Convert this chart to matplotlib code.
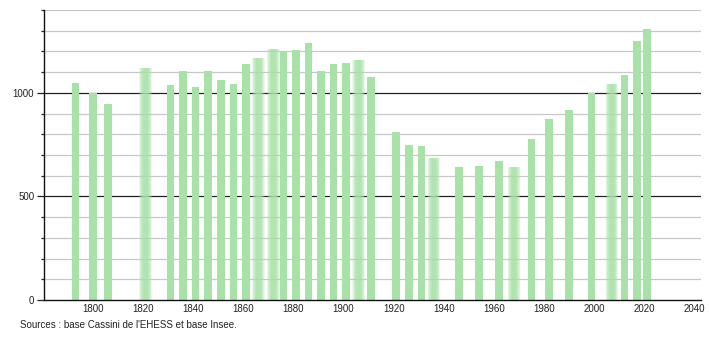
import numpy as np
import matplotlib.pyplot as plt
from matplotlib.ticker import MultipleLocator

plt.rcParams['font.family'] = ['Liberation Sans', 'DejaVu Sans']

# census years and population
years = [1793, 1800, 1806, 1821, 1831, 1836, 1841, 1846, 1851, 1856,
         1861, 1866, 1872, 1876, 1881, 1886, 1891, 1896, 1901, 1906,
         1911, 1921, 1926, 1931, 1936, 1946, 1954, 1962, 1968, 1975,
         1982, 1990, 1999, 2007, 2012, 2017, 2021]
pop = [1048, 1000, 948, 1118, 1040, 1105, 1029, 1105, 1060, 1045,
       1137, 1169, 1213, 1198, 1205, 1242, 1105, 1137, 1145, 1161,
       1077, 811, 748, 745, 687, 644, 648, 673, 644, 779,
       876, 915, 998, 1044, 1087, 1248, 1310]
# bars that look soft-edged in the original
blurred = [1821, 1866, 1872, 1906, 1936, 1968, 2007]

green = '#a8e2a8'

fig = plt.figure(figsize=(7.1, 3.4), dpi=100)
ax = fig.add_axes([0.062, 0.1176, 0.925, 0.853])

for y in range(100, 1500, 100):
    if y % 500 == 0:
        ax.axhline(y, color='#222222', lw=0.9, zorder=1)
    else:
        ax.axhline(y, color='#c8c8c8', lw=0.9, zorder=1)

sharp = [(x, p) for x, p in zip(years, pop) if x not in blurred]
soft = [(x, p) for x, p in zip(years, pop) if x in blurred]
ax.bar([s[0] for s in sharp], [s[1] for s in sharp], width=3.0,
       color=green, lw=0, zorder=2)
for w in np.linspace(5.0, 1.6, 8):
    ax.bar([s[0] for s in soft], [s[1] for s in soft], width=w,
           color=green, alpha=0.22, lw=0, zorder=2)

ax.set_xlim(1780.5, 2042.5)
ax.set_ylim(0, 1400)
ax.set_xticks(range(1800, 2041, 20))
ax.set_yticks([0, 500, 1000])
ax.yaxis.set_minor_locator(MultipleLocator(100))
ax.tick_params(axis='x', length=0, pad=3, labelsize=7, colors='#222222')
ax.tick_params(axis='y', which='major', length=5, width=0.9, pad=2,
               labelsize=7, colors='#222222')
ax.tick_params(axis='y', which='minor', length=2, width=0.9, color='#222222')

for side in ['top', 'right']:
    ax.spines[side].set_visible(False)
for side in ['left', 'bottom']:
    ax.spines[side].set_color('#111111')
    ax.spines[side].set_linewidth(1.0)

fig.text(0.028, 0.035, "Sources : base Cassini de l'EHESS et base Insee.",
         fontsize=7, color='#222222')

fig.savefig('out.png', dpi=100)
